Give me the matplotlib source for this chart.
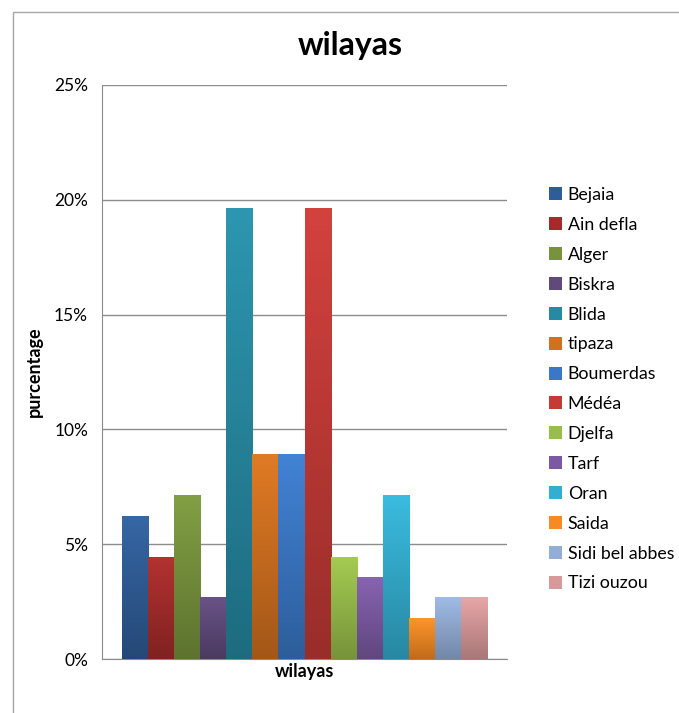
import matplotlib.pyplot as plt
import matplotlib.colors as mcolors
import numpy as np
from matplotlib.patches import Rectangle
from matplotlib.ticker import FuncFormatter

wilayas = ["Bejaia", "Ain defla", "Alger", "Biskra", "Blida", "tipaza",
           "Boumerdas", "Médéa", "Djelfa", "Tarf", "Oran", "Saida",
           "Sidi bel abbes", "Tizi ouzou"]
percent = [6.25, 4.46, 7.14, 2.68, 19.64, 8.93, 8.93, 19.64,
           4.46, 3.57, 7.14, 1.79, 2.68, 2.68]
colors = ["#2f5d98", "#a52b2a", "#77933c", "#5f4a7b", "#268aa3", "#d1701e",
          "#3a78c6", "#c43a36", "#98bd4a", "#7c5aa3", "#33aed0", "#f68a23",
          "#93aed6", "#d8999a"]

plt.rcParams['font.family'] = ['Lato', 'DejaVu Sans']

fig = plt.figure(figsize=(6.79, 7.13), dpi=100)
ax = fig.add_axes([102 / 679, 1 - 659 / 713, 405 / 679, 574 / 713])

# outer chart border
fig.add_artist(Rectangle((13 / 679, -0.1), 2, 1.1 - 12 / 713,
                         transform=fig.transFigure, fill=False,
                         edgecolor="#a6a6a6", lw=1))

x = np.arange(len(wilayas))
bars = ax.bar(x, percent, width=1.0, color=colors, label=wilayas, zorder=2)

# vertical gradient on each bar, darker at the bottom
grad = np.linspace(0, 1, 100).reshape(-1, 1)
for b, c in zip(bars, colors):
    rgb = np.array(mcolors.to_rgb(c))
    top = np.clip(rgb * 1.05 + 0.02, 0, 1)
    bot = rgb * 0.78
    img = bot + (top - bot) * grad[:, :, None]
    im = ax.imshow(img, extent=[b.get_x(), b.get_x() + b.get_width(),
                                0, b.get_height()],
                   origin="lower", aspect="auto", zorder=3)
    im.set_clip_path(b)

ax.set_xlim(-0.5 - 0.755, 13.5 + 0.755)
ax.set_ylim(0, 25)
ax.set_yticks([0, 5, 10, 15, 20, 25])
ax.yaxis.set_major_formatter(FuncFormatter(lambda v, p: "%d%%" % v))
ax.set_xticks([])
ax.grid(axis="y", color="#8c8c8c", lw=1, zorder=0)
ax.tick_params(axis="y", length=0, pad=10, labelsize=12.5)
for s in ["top", "right"]:
    ax.spines[s].set_visible(False)
ax.spines["left"].set_color("#8c8c8c")
ax.spines["bottom"].set_color("#8c8c8c")

ax.set_xlabel("wilayas", fontsize=13, fontweight="bold", labelpad=3)
ax.set_ylabel("purcentage", fontsize=13, fontweight="bold", labelpad=8)
fig.text(350 / 679, 1 - 45 / 713, "wilayas", fontsize=23, fontweight="bold",
         ha="center", va="center")

ax.legend(bars, wilayas, loc="upper left", bbox_to_anchor=(542 / 679, 1 - 180 / 713),
          bbox_transform=fig.transFigure, frameon=False, fontsize=12.8,
          handlelength=0.75, handleheight=0.75, handletextpad=0.3,
          labelspacing=0.78, borderaxespad=0)

fig.savefig("out.png", dpi=100)
